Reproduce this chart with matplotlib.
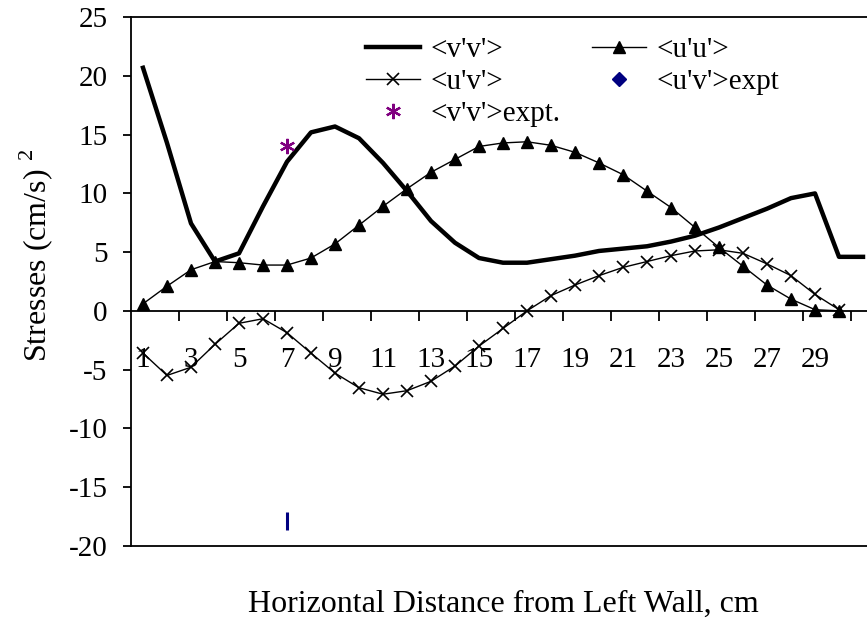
import matplotlib
matplotlib.use("Agg")
import matplotlib.pyplot as plt
from matplotlib.lines import Line2D
import numpy as np

plt.rcParams['font.family'] = ['Liberation Serif', 'DejaVu Serif']
plt.rcParams['mathtext.fontset'] = 'custom'
plt.rcParams['mathtext.rm'] = 'Liberation Serif'

# ---- data ----
positions = list(range(1, 32))
vv = [20.7, 14.3, 7.45, 4.2, 4.9, 8.9, 12.7, 15.2, 15.7, 14.7, 12.6, 10.2, 7.65,
      5.8, 4.5, 4.1, 4.1, 4.4, 4.7, 5.1, 5.3, 5.5, 5.9, 6.4, 7.1, 7.9, 8.7, 9.6,
      10.0, 4.6, 4.6]
uu = [0.6, 2.1, 3.5, 4.2, 4.1, 3.9, 3.9, 4.5, 5.7, 7.3, 8.9, 10.4, 11.8, 12.9,
      14.0, 14.3, 14.4, 14.1, 13.5, 12.6, 11.6, 10.2, 8.8, 7.1, 5.4, 3.8, 2.2,
      1.0, 0.1, 0.0]
uv = [-3.6, -5.5, -4.8, -2.85, -1.06, -0.67, -1.86, -3.6, -5.3, -6.55, -7.1, -6.8,
      -6.0, -4.7, -3.0, -1.5, 0.0, 1.3, 2.2, 3.0, 3.7, 4.2, 4.7, 5.1, 5.2, 4.9,
      4.0, 3.0, 1.4, 0.1]
vv_expt_x = [7]
vv_expt = [14.0]
uv_expt_x = [7]
uv_expt = [-17.9]
xtick_labels = [str(i) for i in range(1, 30, 2)]
ytick_values = list(range(-20, 26, 5))

FS = 21
W, H = 867, 622
fig = plt.figure(figsize=(W / 100, H / 100), dpi=100)
ax = fig.add_axes([131 / W, (H - 545.7) / H, (875 - 131) / W, (545.7 - 17.3) / H])

ax.plot(positions, vv, color='black', lw=3.2, solid_joinstyle='round', zorder=3)
ax.plot(positions[:len(uu)], uu, color='black', lw=1.0, marker='^', ms=9, zorder=4)
ax.plot(positions[:len(uv)], uv, color='black', lw=1.0, marker='x', ms=9, mew=1.2, zorder=4)
ax.plot(vv_expt_x, vv_expt, ls='none', marker=(6, 2, 0), ms=11, mew=1.6,
        color='#800080', zorder=5)
ax.plot(uv_expt_x, uv_expt, ls='none', marker='|', ms=13, mew=2.2,
        color='#000080', zorder=5)

ax.set_xlim(0.5, 31.5)
ax.set_ylim(-20, 25)
ax.set_yticks(ytick_values)
ax.set_yticklabels([str(v) for v in ytick_values])
ax.tick_params(axis='y', direction='out', length=6, width=1.3, labelsize=FS, pad=11)
ax.set_xticks([])
for s in ['left', 'top', 'bottom', 'right']:
    ax.spines[s].set_linewidth(1.3)

# x axis crossing at zero
sec = ax.secondary_xaxis(20 / 45)
sec.spines['bottom'].set_linewidth(1.3)
sec.set_xticks(list(range(1, 30, 2)))
sec.set_xticklabels(xtick_labels)
sec.set_xticks(np.arange(2.5, 31, 2), minor=True)
sec.tick_params(axis='x', which='major', length=0, labelsize=FS, pad=26)
sec.tick_params(axis='x', which='minor', length=7, width=1.3, direction='out')

fig.text(503 / W, 1 - 611.5 / H, 'Horizontal Distance from Left Wall, cm',
         ha='center', va='baseline', fontsize=23)
fig.text(36 / W, 1 - 255 / H, r'Stresses (cm/s) $^{2}$', rotation=90,
         ha='center', va='center', fontsize=23)

handles = [
    Line2D([], [], color='black', lw=3.2),
    Line2D([], [], color='black', lw=1.0, marker='x', ms=9, mew=1.2),
    Line2D([], [], ls='none', marker=(6, 2, 0), ms=11, mew=1.6, color='#800080'),
    Line2D([], [], color='black', lw=1.0, marker='^', ms=9),
    Line2D([], [], ls='none', marker='D', ms=7, color='#000080'),
]
labels = ["<v'v'>", "<u'v'>", "<v'v'>expt.", "<u'u'>", "<u'v'>expt"]
fig.legend(handles, labels, ncol=2, frameon=False, fontsize=FS,
           loc='upper left', bbox_to_anchor=(366 / W, 1 - 37 / H),
           borderpad=0, handlelength=1.85, handletextpad=0.35,
           columnspacing=1.1, labelspacing=0.18, borderaxespad=0)

fig.savefig('out.png', dpi=100)
